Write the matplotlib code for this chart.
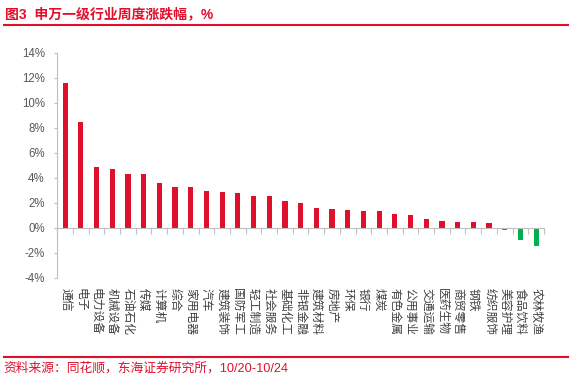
import numpy as np
import matplotlib.pyplot as plt
from matplotlib.lines import Line2D

plt.rcParams['font.family'] = ['Liberation Sans', 'Noto Sans CJK SC', 'DejaVu Sans']

# 申万一级行业周度涨跌幅 (%)
industries = ['通信', '电子', '电力设备', '机械设备', '石油石化', '传媒', '计算机', '综合',
              '家用电器', '汽车', '建筑装饰', '国防军工', '轻工制造', '社会服务', '基础化工',
              '非银金融', '建筑材料', '房地产', '环保', '银行', '煤炭', '有色金属', '公用事业',
              '交通运输', '医药生物', '商贸零售', '钢铁', '纺织服饰', '美容护理', '食品饮料',
              '农林牧渔']
change = [11.55, 8.48, 4.88, 4.70, 4.30, 4.27, 3.55, 3.28, 3.28, 2.91, 2.89, 2.80, 2.59,
          2.59, 2.13, 1.99, 1.58, 1.50, 1.42, 1.39, 1.39, 1.12, 1.07, 0.70, 0.56, 0.46,
          0.46, 0.38, -0.15, -0.96, -1.44]
yticks = [-4, -2, 0, 2, 4, 6, 8, 10, 12, 14]

red = '#E0102D'
green = '#00B050'
grey = '#BFBFBF'

fig = plt.figure(figsize=(5.74, 3.78), dpi=100)
ax = fig.add_axes([0.0998, 0.2646, 0.8479, 0.596])

x = np.arange(len(industries))
colors = [red if v >= 0 else green for v in change]
ax.bar(x, change, width=0.33, color=colors)

ax.set_xlim(-0.5, len(industries) - 0.5)
ax.set_ylim(-4, 14)
ax.set_yticks(yticks)
ax.set_yticklabels([f'{t}%' for t in yticks])

for s in ['top', 'right']:
    ax.spines[s].set_visible(False)
ax.spines['left'].set_color(grey)
ax.spines['bottom'].set_color(grey)
ax.spines['bottom'].set_position(('data', 0))

ax.tick_params(axis='y', colors=grey, labelcolor='#595959', labelsize=8.3, length=2, pad=7)
ax.set_xticks(x)
ax.set_xticks(np.arange(len(industries) + 1) - 0.5, minor=True)
ax.set_xticklabels(industries, rotation=270, fontsize=8.5, color='#404040',
                   family=['Noto Sans CJK SC'], va='top', ha='center')
ax.tick_params(axis='x', which='major', length=0, pad=43)
ax.tick_params(axis='x', which='minor', length=4, color=grey, width=0.8)

# title and frame lines
fig.text(5 / 574, 1 - 14 / 378, '图3  申万一级行业周度涨跌幅，%', color=red, fontsize=10,
         fontweight='bold', va='center', ha='left')
fig.add_artist(Line2D([4 / 574, 568 / 574], [1 - 25.3 / 378] * 2, color=red, lw=1.5,
                      transform=fig.transFigure))
fig.add_artist(Line2D([4 / 574, 568 / 574], [1 - 357.3 / 378] * 2, color=red, lw=1.5,
                      transform=fig.transFigure))
fig.text(3 / 574, 1 - 368 / 378, '资料来源：同花顺，东海证券研究所，10/20-10/24', color=red,
         fontsize=9.2, va='center', ha='left')

fig.savefig('out.png', dpi=100)
